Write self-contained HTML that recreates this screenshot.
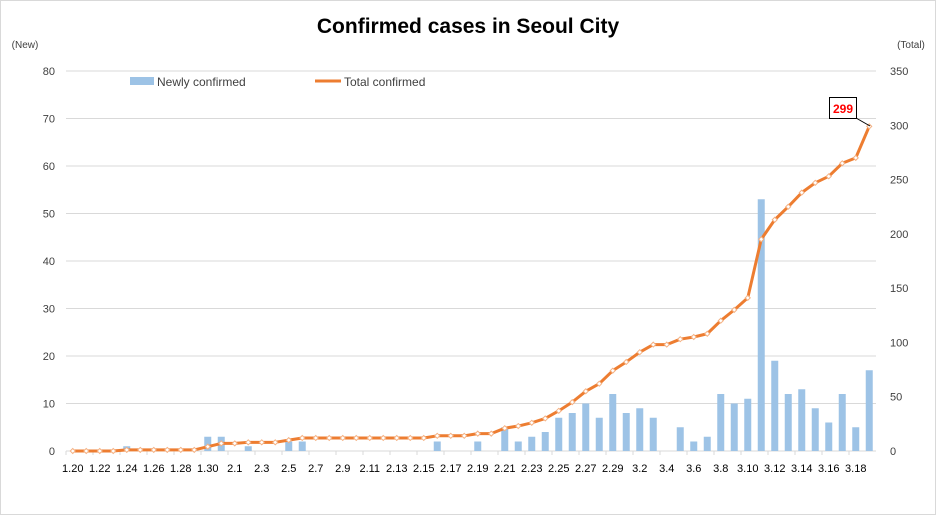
<!DOCTYPE html>
<html><head><meta charset="utf-8"><style>
body{margin:0;background:#fff;}
svg{font-family:"Liberation Sans",sans-serif;display:block;}
</style></head><body>
<svg id="chart" width="936" height="515">
<rect x="0.5" y="0.5" width="935" height="514" fill="#fff" stroke="#d9d9d9"/>
<text x="468" y="33" text-anchor="middle" font-size="21" font-weight="bold" fill="#000">Confirmed cases in Seoul City</text>
<text x="25" y="48" text-anchor="middle" font-size="10" fill="#404040">(New)</text>
<text x="911" y="48" text-anchor="middle" font-size="10" fill="#404040">(Total)</text>
<g>
<rect x="130" y="77" width="24" height="8" fill="#9dc3e6"/>
<text x="157" y="86" font-size="12" fill="#404040">Newly confirmed</text>
<line x1="315" y1="81" x2="341" y2="81" stroke="#ed7d31" stroke-width="3"/>
<text x="344" y="86" font-size="12" fill="#404040">Total confirmed</text>
</g>
<g id="grid"></g><g id="bars"></g><g id="line"></g><g id="labels"></g>
<g>
<line x1="856" y1="118" x2="870" y2="126" stroke="#000" stroke-width="1"/>
<rect x="829.5" y="97.5" width="27" height="21" fill="#fff" stroke="#000"/>
<text x="843" y="113" text-anchor="middle" font-size="12" font-weight="bold" fill="#ff0000">299</text>
</g>
</svg>
<script>
const categories=["1.20","1.21","1.22","1.23","1.24","1.25","1.26","1.27","1.28","1.29","1.30","1.31","2.1","2.2","2.3","2.4","2.5","2.6","2.7","2.8","2.9","2.10","2.11","2.12","2.13","2.14","2.15","2.16","2.17","2.18","2.19","2.20","2.21","2.22","2.23","2.24","2.25","2.26","2.27","2.28","2.29","3.1","3.2","3.3","3.4","3.5","3.6","3.7","3.8","3.9","3.10","3.11","3.12","3.13","3.14","3.15","3.16","3.17","3.18","3.19"];
const newCases=[0,0,0,0,1,0,0,0,0,0,3,3,0,1,0,0,2,2,0,0,0,0,0,0,0,0,0,2,0,0,2,0,5,2,3,4,7,8,10,7,12,8,9,7,0,5,2,3,12,10,11,53,19,12,13,9,6,12,5,17];
const totalCases=[0,0,0,0,1,1,1,1,1,1,4,7,7,8,8,8,10,12,12,12,12,12,12,12,12,12,12,14,14,14,16,16,21,23,26,30,37,45,55,62,74,82,91,98,98,103,105,108,120,130,141,195,213,225,238,247,253,265,270,299];
const leftTicks=[0,10,20,30,40,50,60,70,80];
const rightTicks=[0,50,100,150,200,250,300,350];
const X0=66,X1=876,Y0=451,Y1=71;
const bw=(X1-X0)/categories.length;
const xc=i=>X0+bw*(i+0.5);
const yL=v=>Y0-(Y0-Y1)*v/80;
const yR=v=>Y0-(Y0-Y1)*v/350;
const NS="http://www.w3.org/2000/svg";
function mk(tag,parent,attrs){const e=document.createElementNS(NS,tag);for(const k in attrs)e.setAttribute(k,attrs[k]);document.getElementById(parent).appendChild(e);return e;}
leftTicks.forEach(t=>{
 const g=mk("line","grid",{x1:X0,x2:X1,y1:yL(t),y2:yL(t),stroke:"#d9d9d9","stroke-width":1});
 
 
 const l=mk("text","labels",{x:55,y:yL(t)+4,"text-anchor":"end","font-size":11,fill:"#404040"});
 l.textContent=t;
 
 
});
rightTicks.forEach(t=>{
 const l=mk("text","labels",{x:890,y:yR(t)+4,"font-size":11,fill:"#404040"});
 l.textContent=t;
 
 
});
categories.forEach((c,i)=>{
 if(i%2===0){
  const l=mk("text","labels",{x:xc(i),y:472,"text-anchor":"middle","font-size":11,fill:"#000"});
  l.textContent=c;
  
  
  const tk=mk("line","grid",{x1:X0+bw*i,x2:X0+bw*i,y1:Y0,y2:Y0+4,stroke:"#d9d9d9"});
  
  
 }
 const v=newCases[i];
 if(v>0){
  const b=mk("rect","bars",{x:xc(i)-3.5,y:yL(v),width:7,height:Y0-yL(v),fill:"#9dc3e6"});
  
  
 }
});
const pts=totalCases.map((v,i)=>xc(i)+","+yR(v)).join(" ");
const pl=mk("polyline","line",{points:pts,fill:"none",stroke:"#ed7d31","stroke-width":3,"stroke-linejoin":"round"});


totalCases.forEach((v,i)=>{
 const x=xc(i),y=yR(v);
 const m=mk("polygon","line",{points:`${x},${y-2.5} ${x+2.5},${y} ${x},${y+2.5} ${x-2.5},${y}`,fill:"#fff",stroke:"#f4b183","stroke-width":1});
 
 
});
</script>
</body></html>
